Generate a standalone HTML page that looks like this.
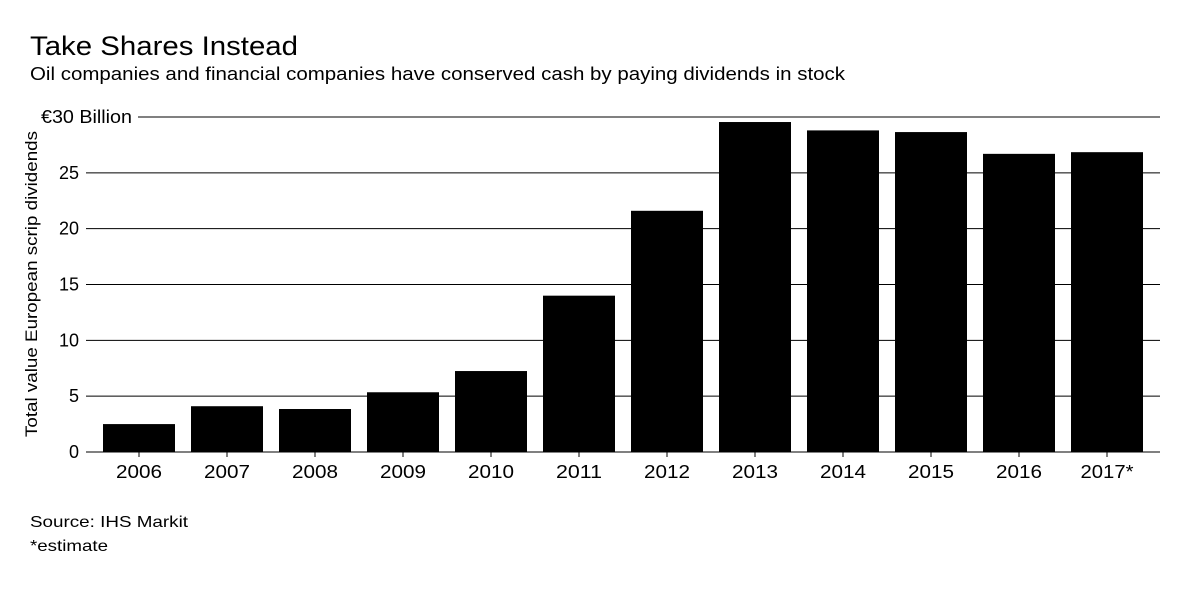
<!DOCTYPE html>
<html><head><meta charset="utf-8"><style>
body{margin:0;background:#fff;width:1200px;height:589px;overflow:hidden;font-family:"Liberation Sans",sans-serif;color:#000}
</style></head><body>
<svg width="1200" height="589" font-family="Liberation Sans, sans-serif">
<text x="30" y="55" font-size="27" textLength="268" lengthAdjust="spacingAndGlyphs">Take Shares Instead</text>
<text x="30" y="80" font-size="18" textLength="815" lengthAdjust="spacingAndGlyphs">Oil companies and financial companies have conserved cash by paying dividends in stock</text>
<g id="grid"></g>
<g id="bars"></g>
<g id="xaxis"></g>
<text transform="translate(37,284) rotate(-90)" text-anchor="middle" font-size="17" textLength="306" lengthAdjust="spacingAndGlyphs">Total value European scrip dividends</text>
<text x="30" y="527" font-size="16" textLength="158" lengthAdjust="spacingAndGlyphs">Source: IHS Markit</text>
<text x="30" y="551" font-size="16" textLength="78" lengthAdjust="spacingAndGlyphs">*estimate</text>
</svg>
<script>
const categories=["2006","2007","2008","2009","2010","2011","2012","2013","2014","2015","2016","2017*"];
const values=[2.5,4.1,3.85,5.35,7.25,14.0,21.6,29.55,28.8,28.65,26.7,26.85];
const yTicks=[0,5,10,15,20,25,30];
const yTickLabels=["0","5","10","15","20","25","€30 Billion"];
const NS="http://www.w3.org/2000/svg";
const y0=452,y1=117,yMax=30;
const y=v=>y0-(v/yMax)*(y0-y1);
const bandL=95,band=88;
const xc=i=>bandL+band*i+band/2;
function mk(t,a,p){const e=document.createElementNS(NS,t);for(const k in a)e.setAttribute(k,a[k]);p.appendChild(e);return e;}
const grid=document.getElementById('grid'),bars=document.getElementById('bars'),xa=document.getElementById('xaxis');
yTicks.forEach((v,i)=>{
  const top=i===yTicks.length-1;
  const l=mk('line',{x1:top?138:86,x2:1160,y1:y(v),y2:y(v),stroke:'#000','stroke-width':1},grid);
  
  
  const t=mk('text',{x:top?132:79,y:y(v)+6,'text-anchor':'end','font-size':18},grid);
  if(top){t.setAttribute('textLength','91');t.setAttribute('lengthAdjust','spacingAndGlyphs');}
  t.textContent=yTickLabels[i];
  
  
});
categories.forEach((c,i)=>{
  const r=mk('rect',{x:xc(i)-36,y:y(values[i]),width:72,height:y0-y(values[i]),fill:'#000'},bars);
  
  
  const tk=mk('line',{x1:xc(i),x2:xc(i),y1:y0,y2:y0+5,stroke:'#000'},xa);
  
  
  const t=mk('text',{x:xc(i),y:y0+26,'text-anchor':'middle','font-size':18,textLength:c.length>4?53:46,lengthAdjust:'spacingAndGlyphs'},xa);
  t.textContent=c;
  
  
});
</script>
</body></html>
